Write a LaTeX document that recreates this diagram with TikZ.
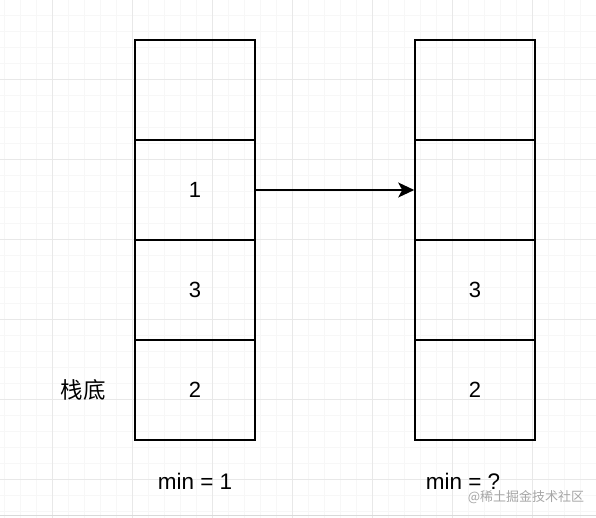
\documentclass[tikz,border=0pt]{standalone}
\usepackage{fontspec}
\setmainfont{Liberation Sans}
\newfontfamily\cjk{Noto Sans CJK SC}
\usetikzlibrary{arrows.meta}
\begin{document}
\begin{tikzpicture}[x=1pt,y=-1pt,
  cell/.style={draw=black,line width=1.6pt,minimum width=120pt,minimum height=100pt,inner sep=0pt,font=\fontsize{22}{26}\selectfont},
  lbl/.style={font=\fontsize{22.5}{26}\selectfont,inner sep=0pt},
  conn/.style={line width=1.6pt,-{Stealth[length=16pt,width=15pt,inset=4pt]}}]
\useasboundingbox (0,0) rectangle (596,518);
\fill[white] (0,0) rectangle (596,518);
% faint grid
\foreach \x in {4,20,...,596} \draw[black!3,line width=0.6pt] (\x,0) -- (\x,518);
\foreach \y in {15,31,...,518} \draw[black!3,line width=0.6pt] (0,\y) -- (596,\y);
\foreach \x in {52,132,...,596} \draw[black!9,line width=0.8pt] (\x,0) -- (\x,518);
\foreach \y in {79,159,...,518} \draw[black!9,line width=0.8pt] (0,\y) -- (596,\y);
\draw[black!15,line width=1pt] (0,515) -- (596,515);
% left stack
\node[cell] (l1) at (195,90) {};
\node[cell] (l2) at (195,190) {1};
\node[cell] (l3) at (195,290) {3};
\node[cell] (l4) at (195,390) {2};
% right stack
\node[cell] (r1) at (475,90) {};
\node[cell] (r2) at (475,190) {};
\node[cell] (r3) at (475,290) {3};
\node[cell] (r4) at (475,390) {2};
\draw[conn] (l2.east) -- (r2.west);
\node[lbl] (bottom) at (83,390) {\cjk 栈底};
\node[lbl] (minl) at (195,481) {min = 1};
\node[lbl] (minr) at (463,481) {min = ?};
\node[inner sep=0pt,text=black!35,font=\fontsize{13}{15}\selectfont] (wm) at (526,497) {\cjk @稀土掘金技术社区};
\end{tikzpicture}
\end{document}
